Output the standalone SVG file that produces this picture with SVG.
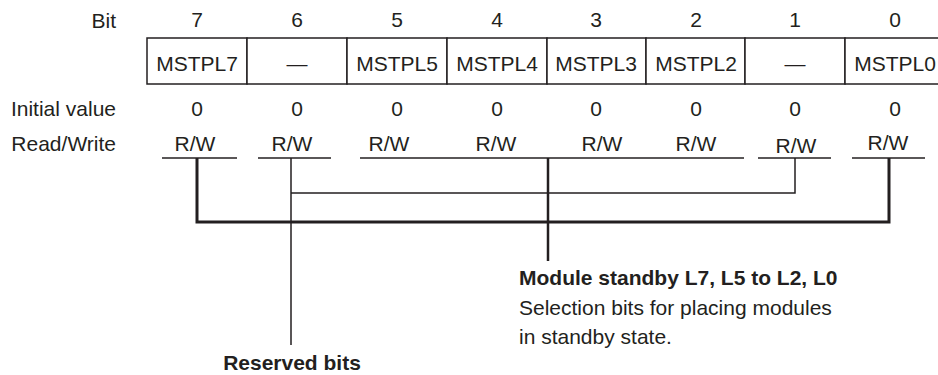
<svg xmlns="http://www.w3.org/2000/svg" width="938" height="375" viewBox="0 0 938 375">
<style>
text{font-family:"Liberation Sans",Arial,Helvetica,sans-serif;font-size:21px;fill:#231f20}
.c{text-anchor:middle}
.r{text-anchor:end}
.b{font-weight:bold}
.cell{fill:#fff;stroke:#231f20;stroke-width:1.5}
.ul{stroke:#231f20;stroke-width:1.5;fill:none}
.thick{stroke:#231f20;stroke-width:3;fill:none}
.thin{stroke:#231f20;stroke-width:1.5;fill:none}
</style>
<rect width="938" height="375" fill="#fff"/>
<g id="labels">
<text class="r" x="116" y="28">Bit</text>
<text class="r" x="116" y="116">Initial value</text>
<text class="r" x="116" y="151">Read/Write</text>
</g>
<g id="bitnums">
<text class="c" x="197" y="27">7</text>
<text class="c" x="297" y="27">6</text>
<text class="c" x="397" y="27">5</text>
<text class="c" x="497" y="27">4</text>
<text class="c" x="596" y="27">3</text>
<text class="c" x="696" y="27">2</text>
<text class="c" x="795" y="27">1</text>
<text class="c" x="895" y="27">0</text>
</g>
<g id="register">
<rect class="cell" x="147" y="38" width="100" height="46"/>
<rect class="cell" x="247" y="38" width="100" height="46"/>
<rect class="cell" x="347" y="38" width="100" height="46"/>
<rect class="cell" x="447" y="38" width="100" height="46"/>
<rect class="cell" x="547" y="38" width="99" height="46"/>
<rect class="cell" x="646" y="38" width="99" height="46"/>
<rect class="cell" x="745" y="38" width="100" height="46"/>
<rect class="cell" x="845" y="38" width="100" height="46"/>
<text class="c" x="197" y="71">MSTPL7</text>
<text class="c" x="297" y="71">—</text>
<text class="c" x="397" y="71">MSTPL5</text>
<text class="c" x="497" y="71">MSTPL4</text>
<text class="c" x="596" y="71">MSTPL3</text>
<text class="c" x="696" y="71">MSTPL2</text>
<text class="c" x="795" y="71">—</text>
<text class="c" x="895" y="71">MSTPL0</text>
</g>
<g id="initial">
<text class="c" x="197" y="116">0</text>
<text class="c" x="297" y="116">0</text>
<text class="c" x="397" y="116">0</text>
<text class="c" x="497" y="116">0</text>
<text class="c" x="596" y="116">0</text>
<text class="c" x="696" y="116">0</text>
<text class="c" x="795" y="116">0</text>
<text class="c" x="895" y="116">0</text>
</g>
<g id="rw">
<text class="c" x="195" y="151">R/W</text>
<text class="c" x="292" y="151">R/W</text>
<text class="c" x="389" y="151">R/W</text>
<text class="c" x="496" y="151">R/W</text>
<text class="c" x="602" y="151">R/W</text>
<text class="c" x="696" y="151">R/W</text>
<text class="c" x="796" y="152.5">R/W</text>
<text class="c" x="888" y="150">R/W</text>
<line class="ul" x1="162" y1="158" x2="237" y2="158"/>
<line class="ul" x1="258" y1="158" x2="331" y2="158"/>
<line class="ul" x1="360" y1="158" x2="744" y2="158"/>
<line class="ul" x1="758" y1="158" x2="831" y2="158"/>
<line class="ul" x1="852" y1="158" x2="925" y2="158"/>
</g>
<g id="connectors">
<path class="thick" d="M197,158 V222 H889 V158"/>
<path class="thin" d="M291,158 V345 M291,193 H795 V158"/>
<path class="thick" d="M548,158 V261" style="stroke-width:2.5"/>
</g>
<g id="module-standby">
<text class="b" x="519" y="285">Module standby L7, L5 to L2, L0</text>
<text x="519" y="315">Selection bits for placing modules</text>
<text x="519" y="344">in standby state.</text>
</g>
<g id="reserved">
<text class="b c" x="292" y="370">Reserved bits</text>
</g>
</svg>
